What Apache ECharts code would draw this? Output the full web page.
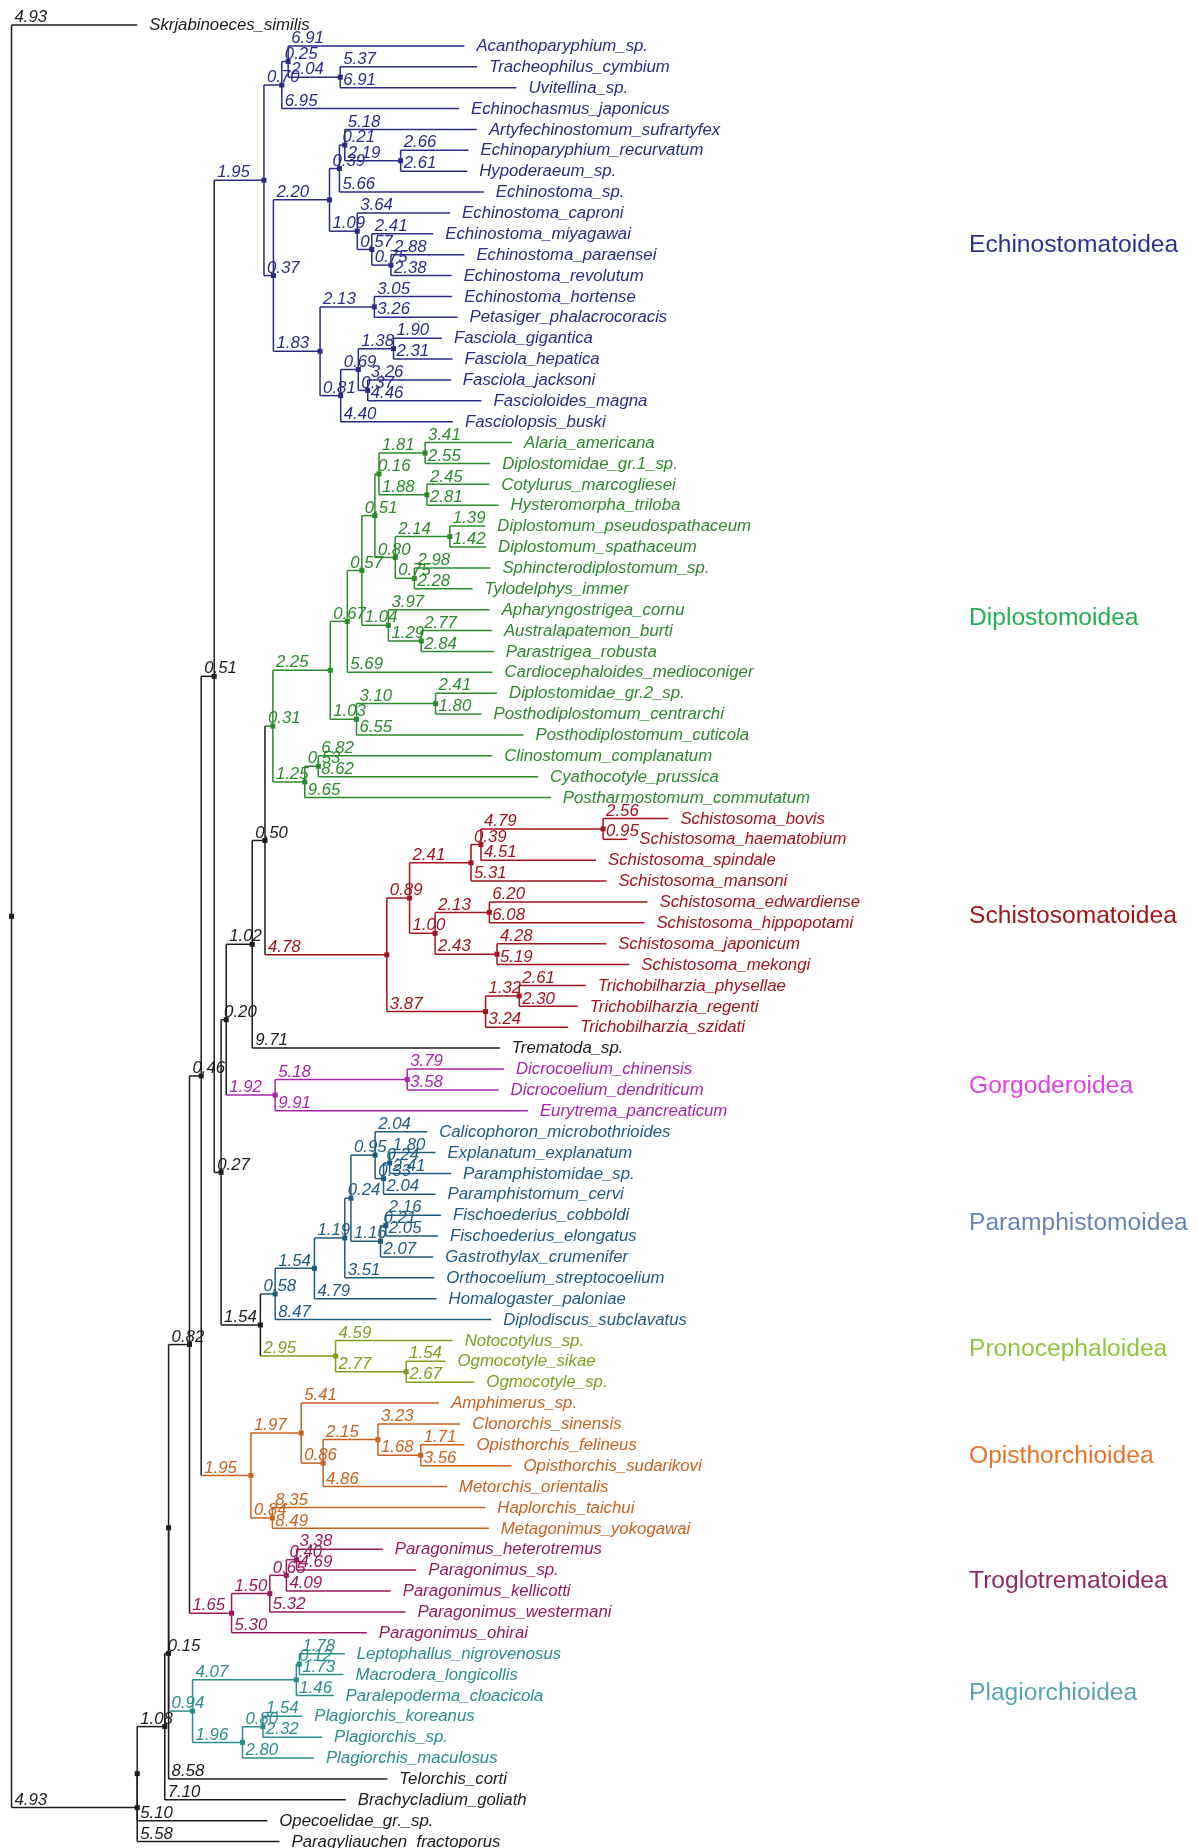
<!DOCTYPE html>
<html><head><meta charset="utf-8">
<script src="https://cdn.jsdelivr.net/npm/echarts@6.0.0/dist/echarts.min.js"></script>
<style>html,body{margin:0;padding:0;background:#fff}#c{width:1198px;height:1848px}</style>
</head><body><div id="c"></div>
<script>
// Leaf order (top to bottom)
const taxa = [
 'Skrjabinoeces_similis',
 'Acanthoparyphium_sp.','Tracheophilus_cymbium','Uvitellina_sp.','Echinochasmus_japonicus','Artyfechinostomum_sufrartyfex',
 'Echinoparyphium_recurvatum','Hypoderaeum_sp.','Echinostoma_sp.','Echinostoma_caproni','Echinostoma_miyagawai',
 'Echinostoma_paraensei','Echinostoma_revolutum','Echinostoma_hortense','Petasiger_phalacrocoracis','Fasciola_gigantica',
 'Fasciola_hepatica','Fasciola_jacksoni','Fascioloides_magna','Fasciolopsis_buski',
 'Alaria_americana','Diplostomidae_gr.1_sp.','Cotylurus_marcogliesei','Hysteromorpha_triloba','Diplostomum_pseudospathaceum',
 'Diplostomum_spathaceum','Sphincterodiplostomum_sp.','Tylodelphys_immer','Apharyngostrigea_cornu','Australapatemon_burti',
 'Parastrigea_robusta','Cardiocephaloides_medioconiger','Diplostomidae_gr.2_sp.','Posthodiplostomum_centrarchi',
 'Posthodiplostomum_cuticola','Clinostomum_complanatum','Cyathocotyle_prussica','Postharmostomum_commutatum',
 'Schistosoma_bovis','Schistosoma_haematobium','Schistosoma_spindale','Schistosoma_mansoni','Schistosoma_edwardiense',
 'Schistosoma_hippopotami','Schistosoma_japonicum','Schistosoma_mekongi','Trichobilharzia_physellae','Trichobilharzia_regenti',
 'Trichobilharzia_szidati','Trematoda_sp.',
 'Dicrocoelium_chinensis','Dicrocoelium_dendriticum','Eurytrema_pancreaticum',
 'Calicophoron_microbothrioides','Explanatum_explanatum','Paramphistomidae_sp.','Paramphistomum_cervi','Fischoederius_cobboldi',
 'Fischoederius_elongatus','Gastrothylax_crumenifer','Orthocoelium_streptocoelium','Homalogaster_paloniae','Diplodiscus_subclavatus',
 'Notocotylus_sp.','Ogmocotyle_sikae','Ogmocotyle_sp.',
 'Amphimerus_sp.','Clonorchis_sinensis','Opisthorchis_felineus','Opisthorchis_sudarikovi','Metorchis_orientalis',
 'Haplorchis_taichui','Metagonimus_yokogawai',
 'Paragonimus_heterotremus','Paragonimus_sp.','Paragonimus_kellicotti','Paragonimus_westermani','Paragonimus_ohirai',
 'Leptophallus_nigrovenosus','Macrodera_longicollis','Paralepoderma_cloacicola','Plagiorchis_koreanus','Plagiorchis_sp.',
 'Plagiorchis_maculosus','Telorchis_corti','Brachycladium_goliath','Opecoelidae_gr._sp.','Paragyliauchen_fractoporus'
];

// Edges: [node, parent, branch length]
const backboneEdges = [
 ['root',null,0],['Skrjabinoeces_similis','root',4.93],['B','root',4.93],['A','B',0],['C','A',1.08],
 ['D','C',0.15],['E','D',0],['F','E',0.82],['G','F',0.46],['H','G',0.51],['I','H',0.27],['J','I',0.20],
 ['K','J',1.02],['L','K',0.50],['Trematoda_sp.','K',9.71],['N','I',1.54],['Telorchis_corti','D',8.58],
 ['Brachycladium_goliath','C',7.10],['Opecoelidae_gr._sp.','A',5.10],['Paragyliauchen_fractoporus','B',5.58]
];
const echinostomatoideaEdges = [
 ['P','H',1.95],['Q','P',0.70],['S','Q',0.25],['Acanthoparyphium_sp.','S',6.91],['T','S',2.04],
 ['Tracheophilus_cymbium','T',5.37],['Uvitellina_sp.','T',6.91],['Echinochasmus_japonicus','Q',6.95],
 ['R','P',0.37],['U','R',2.20],['W','U',0.39],['Y','W',0.21],['Artyfechinostomum_sufrartyfex','Y',5.18],
 ['Z','Y',2.19],['Echinoparyphium_recurvatum','Z',2.66],['Hypoderaeum_sp.','Z',2.61],['Echinostoma_sp.','W',5.66],
 ['X','U',1.09],['Echinostoma_caproni','X',3.64],['AA','X',0.57],['Echinostoma_miyagawai','AA',2.41],
 ['AB','AA',0.75],['Echinostoma_paraensei','AB',2.88],['Echinostoma_revolutum','AB',2.38],
 ['V','R',1.83],['AC','V',2.13],['Echinostoma_hortense','AC',3.05],['Petasiger_phalacrocoracis','AC',3.26],
 ['AD','V',0.81],['AE','AD',0.69],['AF','AE',1.38],['Fasciola_gigantica','AF',1.90],['Fasciola_hepatica','AF',2.31],
 ['AG','AE',0.37],['Fasciola_jacksoni','AG',3.26],['Fascioloides_magna','AG',4.46],['Fasciolopsis_buski','AD',4.40]
];
const diplostomoideaEdges = [
 ['M','L',0.31],['DA','M',2.25],['DB','DA',0.67],['DD','DB',0.57],['DE','DD',0.51],['DG','DE',0.16],
 ['DI','DG',1.81],['Alaria_americana','DI',3.41],['Diplostomidae_gr.1_sp.','DI',2.55],
 ['DJ','DG',1.88],['Cotylurus_marcogliesei','DJ',2.45],['Hysteromorpha_triloba','DJ',2.81],
 ['DH','DE',0.80],['DK','DH',2.14],['Diplostomum_pseudospathaceum','DK',1.39],['Diplostomum_spathaceum','DK',1.42],
 ['DL','DH',0.75],['Sphincterodiplostomum_sp.','DL',2.98],['Tylodelphys_immer','DL',2.28],
 ['DF','DD',1.04],['Apharyngostrigea_cornu','DF',3.97],['DM','DF',1.29],['Australapatemon_burti','DM',2.77],
 ['Parastrigea_robusta','DM',2.84],['Cardiocephaloides_medioconiger','DB',5.69],
 ['DC','DA',1.03],['DN','DC',3.10],['Diplostomidae_gr.2_sp.','DN',2.41],['Posthodiplostomum_centrarchi','DN',1.80],
 ['Posthodiplostomum_cuticola','DC',6.55],['DO','M',1.25],['DP','DO',0.53],['Clinostomum_complanatum','DP',6.82],
 ['Cyathocotyle_prussica','DP',8.62],['Postharmostomum_commutatum','DO',9.65]
];
const schistosomatoideaEdges = [
 ['SA','L',4.78],['SB','SA',0.89],['SD','SB',2.41],['SF','SD',0.39],['SG','SF',4.79],
 ['Schistosoma_bovis','SG',2.56],['Schistosoma_haematobium','SG',0.95],['Schistosoma_spindale','SF',4.51],
 ['Schistosoma_mansoni','SD',5.31],['SE','SB',1.00],['SH','SE',2.13],['Schistosoma_edwardiense','SH',6.20],
 ['Schistosoma_hippopotami','SH',6.08],['SI','SE',2.43],['Schistosoma_japonicum','SI',4.28],
 ['Schistosoma_mekongi','SI',5.19],['SC','SA',3.87],['SJ','SC',1.32],['Trichobilharzia_physellae','SJ',2.61],
 ['Trichobilharzia_regenti','SJ',2.30],['Trichobilharzia_szidati','SC',3.24]
];
const gorgoderoideaEdges = [
 ['GA','J',1.92],['GB','GA',5.18],['Dicrocoelium_chinensis','GB',3.79],['Dicrocoelium_dendriticum','GB',3.58],
 ['Eurytrema_pancreaticum','GA',9.91]
];
const paramphistomoideaEdges = [
 ['PA','N',0.58],['PB','PA',1.54],['PC','PB',1.19],['PD','PC',0.24],['PF','PD',0.95],
 ['Calicophoron_microbothrioides','PF',2.04],['PH','PF',0.33],['PG','PH',0.24],['Explanatum_explanatum','PG',1.80],
 ['Paramphistomidae_sp.','PG',2.41],['Paramphistomum_cervi','PH',2.04],['PE','PD',1.16],['PI','PE',0.21],
 ['Fischoederius_cobboldi','PI',2.16],['Fischoederius_elongatus','PI',2.05],['Gastrothylax_crumenifer','PE',2.07],
 ['Orthocoelium_streptocoelium','PC',3.51],['Homalogaster_paloniae','PB',4.79],['Diplodiscus_subclavatus','PA',8.47]
];
const pronocephaloideaEdges = [
 ['RA','N',2.95],['Notocotylus_sp.','RA',4.59],['RB','RA',2.77],['Ogmocotyle_sikae','RB',1.54],['Ogmocotyle_sp.','RB',2.67]
];
const opisthorchioideaEdges = [
 ['OA','G',1.95],['OB','OA',1.97],['Amphimerus_sp.','OB',5.41],['OD','OB',0.86],['OE','OD',2.15],
 ['Clonorchis_sinensis','OE',3.23],['OF','OE',1.68],['Opisthorchis_felineus','OF',1.71],['Opisthorchis_sudarikovi','OF',3.56],
 ['Metorchis_orientalis','OD',4.86],['OC','OA',0.84],['Haplorchis_taichui','OC',8.35],['Metagonimus_yokogawai','OC',8.49]
];
const troglotrematoideaEdges = [
 ['TA','F',1.65],['TB','TA',1.50],['TC','TB',0.65],['TD','TC',0.40],['Paragonimus_heterotremus','TD',3.38],
 ['Paragonimus_sp.','TD',4.69],['Paragonimus_kellicotti','TC',4.09],['Paragonimus_westermani','TB',5.32],
 ['Paragonimus_ohirai','TA',5.30]
];
const plagiorchioideaEdges = [
 ['PlA','E',0.94],['PlB','PlA',4.07],['PlD','PlB',0.12],['Leptophallus_nigrovenosus','PlD',1.78],
 ['Macrodera_longicollis','PlD',1.73],['Paralepoderma_cloacicola','PlB',1.46],['PlC','PlA',1.96],['PlE','PlC',0.80],
 ['Plagiorchis_koreanus','PlE',1.54],['Plagiorchis_sp.','PlE',2.32],['Plagiorchis_maculosus','PlC',2.80]
];

const groupNames = ['Echinostomatoidea','Diplostomoidea','Schistosomatoidea','Gorgoderoidea','Paramphistomoidea',
 'Pronocephaloidea','Opisthorchioidea','Troglotrematoidea','Plagiorchioidea'];
const groupEdges = [echinostomatoideaEdges, diplostomoideaEdges, schistosomatoideaEdges, gorgoderoideaEdges,
 paramphistomoideaEdges, pronocephaloideaEdges, opisthorchioideaEdges, troglotrematoideaEdges, plagiorchioideaEdges];

// styles / layout
const backboneColor = '#1c1c1c';
const groupLineColors = ['#2b2b86','#2b8a2b','#a3131c','#a824a8','#1f5a80','#809e1e','#c8621e','#991a5c','#2a8c8c'];
const groupLabelColors = ['#2e3192','#22b04c','#a31515','#e040e8','#6484b6','#8dc63f','#e8742c','#8e2866','#5aa2b6'];
const groupLabelShiftPx = [11, -2, -7, -3.5, -2, -12, -9.5, -9.5, -13];

// ---- build tree ----
const nodes = {};
function addEdges(list, g) {
  list.forEach(([id, par, len]) => { nodes[id] = {id, par, len, g, kids: []}; });
}
addEdges(backboneEdges, -1);
groupEdges.forEach((l, gi) => addEdges(l, gi));
Object.values(nodes).forEach(n => { if (n.par) nodes[n.par].kids.push(n); });
function setX(n, x) { n.x = x; n.kids.forEach(k => setX(k, x + k.len)); }
setX(nodes.root, 0);
function setY(n) {
  if (!n.kids.length) { n.y = taxa.indexOf(n.id); n.y1 = n.y2 = n.y; return n.y; }
  const ys = n.kids.map(setY);
  n.y1 = Math.min(...ys); n.y2 = Math.max(...ys);
  n.y = (n.y1 + n.y2) / 2;
  return n.y;
}
setY(nodes.root);
const nodeList = Object.values(nodes);

const FONT = 'italic 16.8px "Liberation Sans", Arial, sans-serif';
const PX_PER_UNIT = 25.5, ROOT_PX = 11.5, ROW_PX = 20.88, TOP_PX = 25, W = 1198, H = 1848;
const xMin = -ROOT_PX / PX_PER_UNIT, xMax = xMin + W / PX_PER_UNIT;
const yMin = -TOP_PX / ROW_PX, yMax = yMin + H / ROW_PX;

function colorOf(n) { return n.g < 0 ? backboneColor : groupLineColors[n.g]; }

function renderNode(params, api) {
  const n = nodeList[params.dataIndex];
  const c = colorOf(n);
  const p = api.coord([n.x, n.y]);
  const els = [];
  if (n.par && n.len > 0) {
    const q = api.coord([nodes[n.par].x, n.y]);
    els.push({type: 'line', shape: {x1: q[0], y1: q[1], x2: p[0], y2: p[1]}, style: {stroke: c, lineWidth: 1.5}});
    els.push({type: 'text', x: q[0] + 3, y: q[1] - 7.5, style: {text: n.len.toFixed(2), font: FONT, fill: c, align: 'left', verticalAlign: 'middle'}, z2: 5});
  }
  if (n.kids.length) {
    const a = api.coord([n.x, n.y1]), b = api.coord([n.x, n.y2]);
    els.push({type: 'line', shape: {x1: a[0], y1: a[1], x2: b[0], y2: b[1]}, style: {stroke: c, lineWidth: 1.5}});
    els.push({type: 'rect', shape: {x: p[0] - 2.5, y: p[1] - 2.5, width: 5, height: 5}, style: {fill: c}, z2: 6});
  } else {
    els.push({type: 'text', x: p[0] + 12, y: p[1] + 0.5, style: {text: n.id, font: FONT, fill: c, align: 'left', verticalAlign: 'middle'}});
  }
  return {type: 'group', children: els};
}

const groupData = groupNames.map((g, gi) => {
  const ys = groupEdges[gi].filter(e => taxa.includes(e[0])).map(e => taxa.indexOf(e[0]));
  return [37.55, (Math.min(...ys) + Math.max(...ys)) / 2, gi];
});

function renderGroup(params, api) {
  const gi = api.value(2);
  const p = api.coord([api.value(0), api.value(1)]);
  return {type: 'text', x: p[0], y: p[1] + groupLabelShiftPx[gi], style: {text: groupNames[gi], font: '24.6px "Liberation Sans", Arial, sans-serif', fill: groupLabelColors[gi], align: 'left', verticalAlign: 'middle'}};
}

const chart = echarts.init(document.getElementById('c'), null, {renderer: 'canvas'});
chart.setOption({
  backgroundColor: '#fff',
  animation: false,
  grid: {left: 0, right: 0, top: 0, bottom: 0},
  xAxis: {type: 'value', min: xMin, max: xMax, show: false},
  yAxis: {type: 'value', min: yMin, max: yMax, inverse: true, show: false},
  series: [
    {type: 'custom', renderItem: renderNode, clip: false, data: nodeList.map(n => [n.x, n.y]), encode: {x: 0, y: 1}},
    {type: 'custom', renderItem: renderGroup, clip: false, data: groupData, encode: {x: 0, y: 1}}
  ]
});
</script></body></html>
